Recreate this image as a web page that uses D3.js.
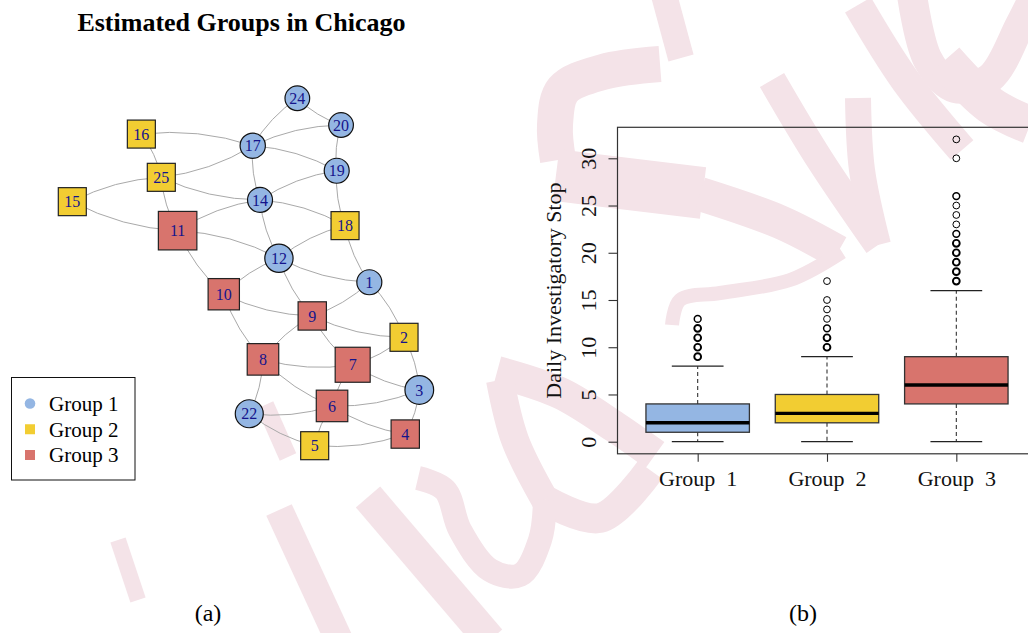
<!DOCTYPE html>
<html>
<head>
<meta charset="utf-8">
<script src="https://cdn.jsdelivr.net/npm/d3@7"></script>
<style>
  body { margin: 0; background: #fff; }
  svg { display: block; font-family: 'Liberation Serif', 'Times New Roman', serif; }
</style>
</head>
<body>
<svg id="chart" width="1028" height="633"></svg>
<script>
// ---- panel (a): network of districts ----
const nodeIds = [1, 2, 3, 4, 5, 6, 7, 8, 9, 10, 11, 12, 14, 15, 16, 17, 18, 19, 20, 22, 24, 25];
const nodeGroup = [1, 2, 1, 3, 2, 3, 3, 3, 3, 3, 3, 1, 1, 2, 2, 1, 2, 1, 1, 1, 1, 2];
// layout coordinates, rescaled to [-1, 1] like igraph does
const nodeX = [0.712, 0.912, 1.0, 0.919, 0.397, 0.497, 0.616, 0.099, 0.383, -0.127, -0.393,
  0.191, 0.082, -1.0, -0.602, 0.040, 0.572, 0.524, 0.549, 0.020, 0.297, -0.487];
const nodeY = [-0.059, -0.376, -0.679, -0.933, -1.0, -0.771, -0.534, -0.503, -0.253, -0.128, 0.238,
  0.079, 0.415, 0.405, 0.794, 0.727, 0.267, 0.583, 0.846, -0.816, 1.0, 0.545];
const nodeSize = [25, 28, 28.7, 28.3, 28, 31.5, 35, 31.5, 28.3, 31.3, 38.5,
  28.3, 25, 28, 28, 25.3, 28, 25, 24.7, 28, 24.7, 28];
const edges = [
  [1, 2], [1, 9], [1, 12], [1, 18],
  [2, 3], [2, 7], [2, 9],
  [3, 4], [3, 6], [3, 7],
  [4, 5], [4, 6],
  [5, 6], [5, 22],
  [6, 7], [6, 8], [6, 22],
  [7, 8], [7, 9],
  [8, 9], [8, 10], [8, 22],
  [9, 10], [9, 12],
  [10, 11], [10, 12],
  [11, 12], [11, 14], [11, 15], [11, 25],
  [12, 14], [12, 18],
  [14, 17], [14, 18], [14, 19], [14, 25],
  [15, 25],
  [16, 17], [16, 25],
  [17, 19], [17, 20], [17, 24], [17, 25],
  [18, 19],
  [19, 20],
  [20, 24]
];
const groupNames = ['Group 1', 'Group 2', 'Group 3'];
const groupColours = ['#94b6e3', '#f2cd32', '#d8746d'];

// ---- panel (b): boxplot of daily investigatory stops ----
const boxLabels = ['Group  1', 'Group  2', 'Group  3'];
const whiskerLow = [0, 0, 0];
const quart1 = [1, 2, 4];
const median = [2, 3, 6];
const quart3 = [4, 5, 9];
const whiskerHigh = [8, 9, 16];
// [value, how many points overlap there]
const outliers = [
  [[9, 3], [10, 3], [11, 3], [12, 3], [13, 2]],
  [[10, 3], [11, 3], [12, 2], [13, 1], [14, 1], [15, 1], [17, 1]],
  [[17, 3], [18, 3], [19, 3], [20, 3], [21, 3], [22, 2], [23, 1], [24, 1], [25, 1], [26, 2], [30, 1], [32, 1]]
];
const yTicks = [0, 5, 10, 15, 20, 25, 30];

// background stamp (decoration only)
const watermarkStrokes = [
  { w: 26, pts: [[664, -5], [681, 58]] },
  { w: 36, pts: [[660, 64], [603, 72], [563, 90], [555, 125], [558, 160]] },
  { w: 52, pts: [[556, 175], [620, 183], [703, 193]] },
  { w: 34, pts: [[700, 194], [780, 222], [838, 252]] },
  { w: 14, pts: [[842, 252], [790, 280], [720, 293], [680, 300], [672, 325]] },
  { w: 28, pts: [[772, 80], [820, 160], [878, 245]] },
  { w: 26, pts: [[878, 245], [862, 170], [858, 98]] },
  { w: 30, pts: [[858, 5], [905, 80], [962, 150]] },
  { w: 30, pts: [[912, -5], [928, 60], [955, 88], [990, 78], [1020, 25], [1035, -5]] },
  { w: 38, pts: [[945, 60], [990, 105], [1030, 125]] },
  { w: 32, pts: [[497, 372], [560, 393], [615, 427], [655, 455]] },
  { w: 28, pts: [[500, 380], [515, 440], [545, 500]] },
  { w: 30, pts: [[545, 500], [600, 518], [650, 470]] },
  { w: 24, pts: [[418, 478], [445, 490], [460, 530], [490, 570], [520, 575], [540, 540], [545, 500]] },
  { w: 16, pts: [[118, 540], [138, 600]] },
  { w: 18, pts: [[265, 405], [288, 457]] },
  { w: 28, pts: [[279, 510], [339, 640]] },
  { w: 32, pts: [[368, 497], [490, 640]] }
];

const svg = d3.select('#chart');

// watermark behind everything
const stampLine = d3.line().curve(d3.curveCatmullRom.alpha(0.5));
svg.append('g')
  .selectAll('path')
  .data(watermarkStrokes)
  .join('path')
  .attr('d', (d) => stampLine(d.pts))
  .attr('fill', 'none')
  .attr('stroke', '#f4e3e8')
  .attr('stroke-width', (d) => d.w)
  .attr('stroke-linejoin', 'round');

// ---------- network ----------
const xNet = d3.scaleLinear().domain([-1, 1]).range([72.3, 419.3]);
const yNet = d3.scaleLinear().domain([-1, 1]).range([445.7, 98.3]);
const curvature = 0.11;

const nodes = nodeIds.map((id, i) => ({
  id,
  group: nodeGroup[i],
  x: xNet(nodeX[i]),
  y: yNet(nodeY[i]),
  size: nodeSize[i],
}));
const byId = new Map(nodes.map((n) => [n.id, n]));

svg.append('text')
  .attr('x', 241.5)
  .attr('y', 31)
  .attr('text-anchor', 'middle')
  .attr('font-size', 26)
  .attr('font-weight', 'bold')
  .text('Estimated Groups in Chicago');

const net = svg.append('g');

net.append('g')
  .selectAll('path')
  .data(edges)
  .join('path')
  .attr('d', ([a, b]) => {
    const s = byId.get(a);
    const t = byId.get(b);
    const dx = t.x - s.x;
    const dy = t.y - s.y;
    const cx = (s.x + t.x) / 2 + curvature * dy;
    const cy = (s.y + t.y) / 2 - curvature * dx;
    const p = d3.path();
    p.moveTo(s.x, s.y);
    p.quadraticCurveTo(cx, cy, t.x, t.y);
    return p.toString();
  })
  .attr('fill', 'none')
  .attr('stroke', '#a9a9a9')
  .attr('stroke-width', 1);

const nodeG = net.append('g')
  .selectAll('g')
  .data(nodes)
  .join('g')
  .attr('transform', (d) => 'translate(' + d.x + ',' + d.y + ')');

nodeG.filter((d) => d.group === 1)
  .append('circle')
  .attr('r', (d) => d.size / 2)
  .attr('fill', groupColours[0])
  .attr('stroke', '#111')
  .attr('stroke-width', 1.2);

nodeG.filter((d) => d.group !== 1)
  .append('rect')
  .attr('x', (d) => -d.size / 2)
  .attr('y', (d) => -d.size / 2)
  .attr('width', (d) => d.size)
  .attr('height', (d) => d.size)
  .attr('fill', (d) => groupColours[d.group - 1])
  .attr('stroke', '#222')
  .attr('stroke-width', 1.2);

nodeG.append('text')
  .attr('text-anchor', 'middle')
  .attr('dy', '0.35em')
  .attr('font-size', 16)
  .attr('fill', '#14148c')
  .text((d) => d.id);

// legend
const legend = svg.append('g');
legend.append('rect')
  .attr('x', 11.5)
  .attr('y', 377.5)
  .attr('width', 123.5)
  .attr('height', 102.5)
  .attr('fill', '#fff')
  .attr('stroke', '#111')
  .attr('stroke-width', 1);

const legendRow = d3.scalePoint().domain(groupNames).range([403.5, 455]);
groupNames.forEach((name, i) => {
  const y = legendRow(name);
  if (i === 0) {
    legend.append('circle').attr('cx', 30).attr('cy', y).attr('r', 5.3)
      .attr('fill', groupColours[i]);
  } else {
    legend.append('rect').attr('x', 25).attr('y', y - 5).attr('width', 10).attr('height', 10)
      .attr('fill', groupColours[i]);
  }
  legend.append('text')
    .attr('x', 49)
    .attr('y', y)
    .attr('dy', '0.35em')
    .attr('font-size', 21)
    .text(name);
});

// ---------- boxplot ----------
const xBox = d3.scaleLinear().domain([0.38, 3.62]).range([617.5, 1036.5]);
const yBox = d3.scaleLinear().domain([-1.28, 33.28]).range([453.8, 127.3]);
const boxHalf = xBox(1.4) - xBox(1);
const capHalf = xBox(1.2) - xBox(1);

const plot = svg.append('g');

boxLabels.forEach((label, i) => {
  const cx = xBox(i + 1);
  const g = plot.append('g');
  // whiskers
  g.selectAll('line.whisk')
    .data([[quart3[i], whiskerHigh[i]], [quart1[i], whiskerLow[i]]])
    .join('line')
    .attr('class', 'whisk')
    .attr('x1', cx).attr('x2', cx)
    .attr('y1', (d) => yBox(d[0]))
    .attr('y2', (d) => yBox(d[1]))
    .attr('stroke', '#333')
    .attr('stroke-width', 1.1)
    .attr('stroke-dasharray', '4,3');
  g.selectAll('line.cap')
    .data([whiskerHigh[i], whiskerLow[i]])
    .join('line')
    .attr('class', 'cap')
    .attr('x1', cx - capHalf).attr('x2', cx + capHalf)
    .attr('y1', (d) => yBox(d)).attr('y2', (d) => yBox(d))
    .attr('stroke', '#222')
    .attr('stroke-width', 1.2);
  g.append('rect')
    .attr('x', cx - boxHalf)
    .attr('y', yBox(quart3[i]))
    .attr('width', boxHalf * 2)
    .attr('height', yBox(quart1[i]) - yBox(quart3[i]))
    .attr('fill', groupColours[i])
    .attr('stroke', '#333')
    .attr('stroke-width', 1.3);
  g.append('line')
    .attr('x1', cx - boxHalf).attr('x2', cx + boxHalf)
    .attr('y1', yBox(median[i])).attr('y2', yBox(median[i]))
    .attr('stroke', '#000')
    .attr('stroke-width', 3.4);
  g.selectAll('circle')
    .data(outliers[i])
    .join('circle')
    .attr('cx', cx)
    .attr('cy', (d) => yBox(d[0]))
    .attr('r', 3.4)
    .attr('fill', 'none')
    .attr('stroke', '#000')
    .attr('stroke-width', (d) => (d[1] > 2 ? 1.9 : d[1] > 1 ? 1.5 : 1));
});

// frame
plot.append('rect')
  .attr('x', xBox.range()[0])
  .attr('y', yBox.range()[1])
  .attr('width', xBox.range()[1] - xBox.range()[0])
  .attr('height', yBox.range()[0] - yBox.range()[1])
  .attr('fill', 'none')
  .attr('stroke', '#333')
  .attr('stroke-width', 1.2);

const yAxis = d3.axisLeft(yBox).tickValues(yTicks).tickSize(9).tickSizeOuter(0);
const axisY = plot.append('g')
  .attr('transform', 'translate(' + xBox.range()[0] + ',0)')
  .call(yAxis)
  .attr('font-family', null)
  .attr('font-size', null);
axisY.select('.domain').remove();
axisY.selectAll('line').attr('stroke', '#333').attr('stroke-width', 1.1);
axisY.selectAll('text')
  .attr('x', 0)
  .attr('y', -21.5)
  .attr('dy', null)
  .attr('transform', 'rotate(-90)')
  .attr('text-anchor', 'middle')
  .attr('font-size', 22)
  .attr('fill', '#111');

const xAxis = d3.axisBottom(xBox)
  .tickValues([1, 2, 3])
  .tickFormat((d) => boxLabels[d - 1])
  .tickSize(8)
  .tickSizeOuter(0);
const axisX = plot.append('g')
  .attr('transform', 'translate(0,' + yBox.range()[0] + ')')
  .call(xAxis)
  .attr('font-family', null)
  .attr('font-size', null);
axisX.select('.domain').remove();
axisX.selectAll('line').attr('stroke', '#333').attr('stroke-width', 1.1);
axisX.selectAll('text')
  .attr('y', 32)
  .attr('dy', null)
  .attr('font-size', 22)
  .attr('fill', '#111')
  .style('white-space', 'pre');

plot.append('text')
  .attr('transform', 'translate(560.5,' + (yBox.range()[0] + yBox.range()[1]) / 2 + ') rotate(-90)')
  .attr('text-anchor', 'middle')
  .attr('font-size', 22)
  .attr('fill', '#111')
  .text('Daily Investigatory Stop');

// sub-figure captions
svg.selectAll('text.caption')
  .data([['(a)', 208], ['(b)', 803]])
  .join('text')
  .attr('class', 'caption')
  .attr('x', (d) => d[1])
  .attr('y', 621)
  .attr('text-anchor', 'middle')
  .attr('font-size', 24)
  .text((d) => d[0]);
</script>
</body>
</html>
